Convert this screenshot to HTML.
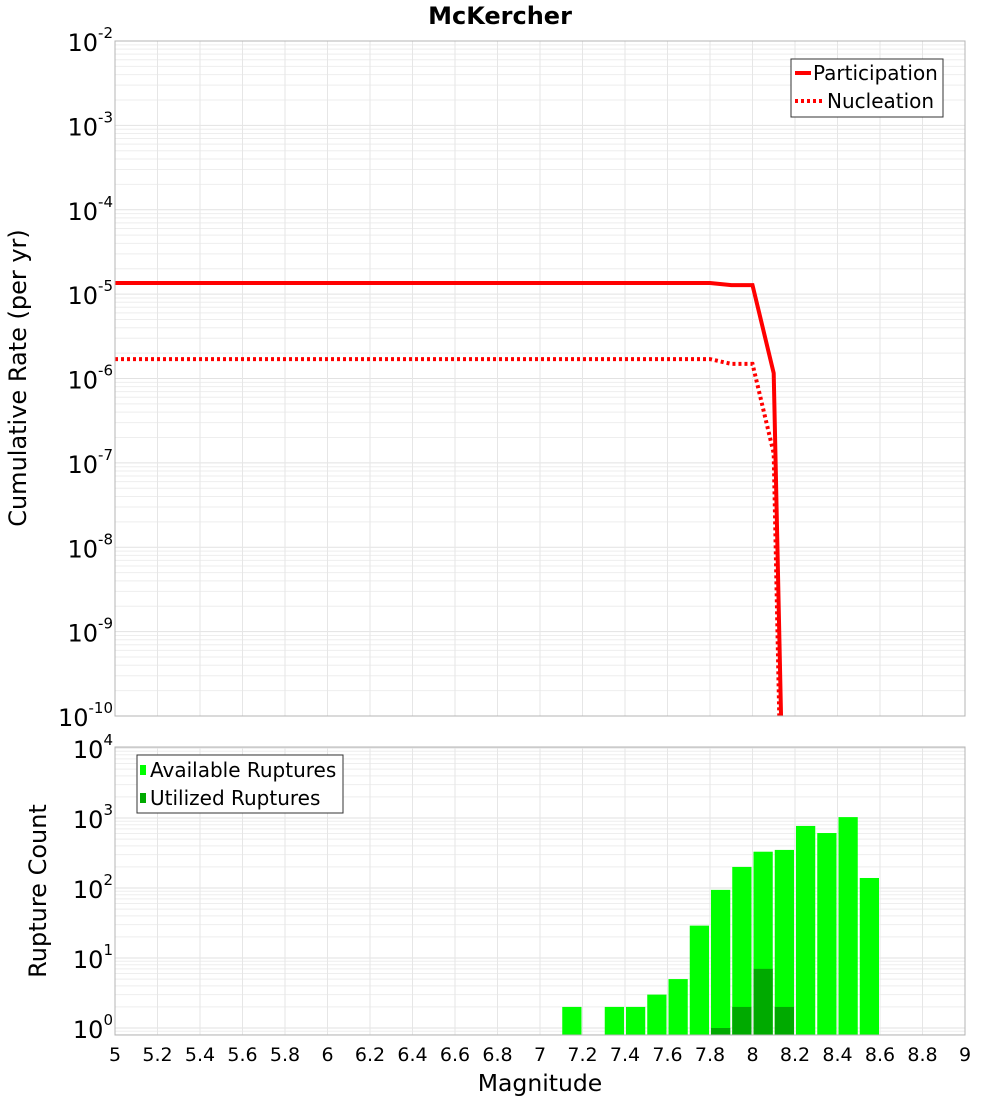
<!DOCTYPE html>
<html><head><meta charset="utf-8"><style>
body{margin:0;background:#fff;}
text{font-family:"DejaVu Sans","Liberation Sans",sans-serif;}
</style></head><body>
<svg id="chart" width="1000" height="1100" xmlns="http://www.w3.org/2000/svg">
<text x="500" y="24" text-anchor="middle" font-size="24" font-weight="bold">McKercher</text>
<g id="gtop"></g>
<g id="gbot"></g>
<text transform="translate(26,378) rotate(-90)" text-anchor="middle" font-size="24">Cumulative Rate (per yr)</text>
<text transform="translate(46,891) rotate(-90)" text-anchor="middle" font-size="24">Rupture Count</text>
<text x="540" y="1091" text-anchor="middle" font-size="23.5">Magnitude</text>
</svg>
<script>
const partMags=[5,7.8,7.9,8.0,8.1,8.14];
const partVals=[1.355e-5,1.355e-5,1.28e-5,1.28e-5,1.16e-6,2e-11];
const nuclMags=[5,7.8,7.9,8.0,8.1,8.14];
const nuclVals=[1.70e-6,1.70e-6,1.49e-6,1.49e-6,1.3e-7,2e-12];
const barMags=[7.1,7.3,7.4,7.5,7.6,7.7,7.8,7.9,8.0,8.1,8.2,8.3,8.4,8.5];
const availCounts=[2,2,2,3,5,29,94,200,330,350,770,610,1030,139];
const utilMags=[7.8,7.9,8.0,8.1];
const utilCounts=[1,2,7,2];
const xTicks=[5,5.2,5.4,5.6,5.8,6,6.2,6.4,6.6,6.8,7,7.2,7.4,7.6,7.8,8,8.2,8.4,8.6,8.8,9];
const xTickLabels=["5","5.2","5.4","5.6","5.8","6","6.2","6.4","6.6","6.8","7","7.2","7.4","7.6","7.8","8","8.2","8.4","8.6","8.8","9"];
const topExps=[-10,-9,-8,-7,-6,-5,-4,-3,-2];
const botExps=[0,1,2,3,4];

const NS="http://www.w3.org/2000/svg";
const PL=115,PR=965;
const X=m=>PL+(m-5)/4*(PR-PL);
const T1=41,B1=716;
const Yt=v=>T1+(-2-Math.log10(v))*(B1-T1)/8;
const T2=748,B2=1035;
const Yb=v=>1028-Math.log10(v)*70;
function mk(tag,attrs,parent){const e=document.createElementNS(NS,tag);for(const k in attrs)e.setAttribute(k,attrs[k]);parent.appendChild(e);return e;}
const gTop=document.getElementById('gtop'),gBot=document.getElementById('gbot'),svgEl=document.getElementById('chart');
const defs=mk('defs',{},svgEl);
const c1=mk('clipPath',{id:'c1'},defs);mk('rect',{x:PL,y:T1,width:PR-PL,height:B1-T1},c1);
const c2=mk('clipPath',{id:'c2'},defs);mk('rect',{x:PL,y:T2-1,width:PR-PL,height:B2-T2+1},c2);

function grid(g,y0,y1,exps,Y,clip){
  const gg=mk('g',{'clip-path':clip},g);
  
  
  for(const e of exps){for(let k=1;k<10;k++){const y=Y(k*Math.pow(10,e));if(y<y0-1||y>y1+1)continue;
    mk('line',{x1:PL,x2:PR,y1:y,y2:y,stroke:k==1?'#e2e2e2':'#eeeeee','stroke-width':1},gg);}}
  for(const m of xTicks){mk('line',{x1:X(m),x2:X(m),y1:y0,y2:y1,stroke:'#e6e6e6','stroke-width':1},gg);}
}
grid(gTop,T1,B1,topExps,Yt,'url(#c1)');
grid(gBot,T2,B2,[-1].concat(botExps),Yb,'url(#c2)');

function powLabel(parent,x,y,e,name){
  const t=mk('text',{x:x,y:y,'text-anchor':'end','font-size':24},parent);
  
  
  t.appendChild(document.createTextNode('10'));
  const s=mk('tspan',{dy:-13,'font-size':15},t);
  s.textContent=String(e);
}
topExps.forEach(e=>powLabel(gTop,113,Yt(Math.pow(10,e))+10,e,'top-y-tick-label'));
botExps.forEach(e=>powLabel(gBot,113,Yb(Math.pow(10,e))+10,e,'bottom-y-tick-label'));
xTicks.forEach((m,i)=>{const t=mk('text',{x:X(m),y:1061,'text-anchor':'middle','font-size':19},gBot);
  
  
  t.textContent=xTickLabels[i];});

function line(mags,vals,dash,name){
  const d=mags.map((m,i)=>(i?'L':'M')+X(m).toFixed(1)+','+Yt(vals[i]).toFixed(1)).join(' ');
  const p=mk('path',{d:d,fill:'none',stroke:'#ff0000','stroke-width':4,'clip-path':'url(#c1)'},gTop);
  if(dash)p.setAttribute('stroke-dasharray','3,3');
  
  
}
line(partMags,partVals,false,'participation-line');
line(nuclMags,nuclVals,true,'nucleation-line');

function bars(mags,vals,color,name){
  mags.forEach((m,i)=>{const x1=X(m)+1,x2=X(m+0.1)-1,y=Yb(vals[i]);
    const r=mk('rect',{x:x1,y:y,width:x2-x1,height:B2-y,fill:color},gBot);
    
    
  });
}
bars(barMags,availCounts,'#00ff00','available-bar');
bars(utilMags,utilCounts,'#00aa00','utilized-bar');

const f1=mk('rect',{x:PL,y:T1,width:PR-PL,height:B1-T1,fill:'none',stroke:'#b4b4b4'},gTop);


const f2=mk('rect',{x:PL,y:T2-1,width:PR-PL,height:B2-T2+1,fill:'none',stroke:'#b4b4b4'},gBot);



const lg1=mk('g',{},gTop);


mk('rect',{x:791,y:59,width:152,height:58,fill:'#fff',stroke:'#333','stroke-width':1},lg1);
mk('line',{x1:795,x2:811,y1:73,y2:73,stroke:'#f00','stroke-width':4},lg1);
mk('line',{x1:795,x2:823,y1:101,y2:101,stroke:'#f00','stroke-width':4,'stroke-dasharray':'3,3'},lg1);
let t=mk('text',{x:813,y:80,'font-size':20},lg1);t.textContent='Participation';


t=mk('text',{x:827,y:108,'font-size':20},lg1);t.textContent='Nucleation';



const lg2=mk('g',{},gBot);


mk('rect',{x:137,y:755,width:206,height:58,fill:'#fff',stroke:'#333','stroke-width':1},lg2);
mk('rect',{x:140,y:765,width:6,height:10,fill:'#00ff00'},lg2);
mk('rect',{x:140,y:793,width:6,height:10,fill:'#00aa00'},lg2);
t=mk('text',{x:150,y:777,'font-size':20},lg2);t.textContent='Available Ruptures';


t=mk('text',{x:150,y:805,'font-size':20},lg2);t.textContent='Utilized Ruptures';


</script>
</body></html>
